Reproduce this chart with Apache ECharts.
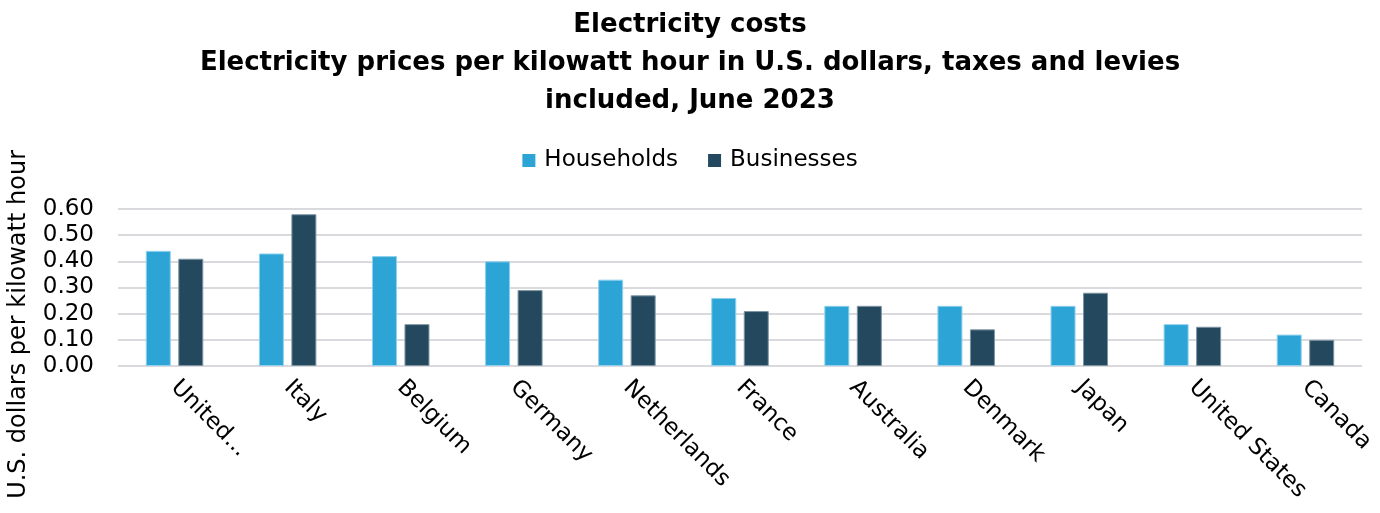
<!DOCTYPE html>
<html>
<head>
<meta charset="utf-8">
<script src="https://cdn.jsdelivr.net/npm/echarts@6/dist/echarts.min.js"></script>
<style>html,body{margin:0;padding:0;background:#fff}#c{width:1380px;height:513px}</style>
</head>
<body>
<div id="c"></div>
<script>
const categories = ['United Kingdom','Italy','Belgium','Germany','Netherlands','France','Australia','Denmark','Japan','United States','Canada'];
const households = [0.44,0.43,0.42,0.40,0.33,0.26,0.23,0.23,0.23,0.16,0.12];
const businesses = [0.41,0.58,0.16,0.29,0.27,0.21,0.23,0.14,0.28,0.15,0.10];
const seriesNames = ['Households','Businesses'];
const titleText = 'Electricity costs\nElectricity prices per kilowatt hour in U.S. dollars, taxes and levies\nincluded, June 2023';
const yAxisTitle = 'U.S. dollars per kilowatt hour';

const FONT = '"DejaVu Sans"';
const chart = echarts.init(document.getElementById('c'));
chart.setOption({
  animation:false,
  backgroundColor:'#fff',
  title:{
    text:titleText,
    left:'center', top:1,
    textStyle:{fontFamily:FONT,fontWeight:'bold',fontSize:26,lineHeight:38,color:'#000'}
  },
  legend:{
    data:seriesNames, top:144, left:'center',
    itemWidth:13,itemHeight:13,itemGap:30,
    icon:'rect',
    itemStyle:{borderWidth:0},
    textStyle:{fontFamily:FONT,fontSize:23,color:'#000',padding:[0,0,0,4]}
  },
  graphic:[{
    type:'text', left:7, top:150,
    rotation:Math.PI/2,
    style:{text:yAxisTitle,fontFamily:FONT,fontSize:24,fill:'#000'}
  }],
  grid:{left:118,right:18,top:209,bottom:147},
  xAxis:{
    type:'category', data:categories,
    axisLine:{show:false}, axisTick:{show:false},
    axisLabel:{
      interval:0, rotate:-45, margin:18,
      fontFamily:FONT,fontSize:23,color:'#000',
      formatter:v=> v==='United Kingdom' ? 'United...' : v
    }
  },
  yAxis:{
    type:'value', min:0, max:0.6, interval:0.1,
    axisLabel:{formatter:v=>v.toFixed(2),fontFamily:FONT,fontSize:23,color:'#000',margin:24},
    splitLine:{lineStyle:{color:'#D9D9DE',width:2}},
    axisLine:{show:false},axisTick:{show:false}
  },
  series:[
    {name:seriesNames[0],type:'bar',data:households,barWidth:25,barGap:'30%',
     itemStyle:{color:'#2CA5D6',borderColor:'#8FD0EC',borderWidth:1}},
    {name:seriesNames[1],type:'bar',data:businesses,barWidth:25,
     itemStyle:{color:'#24495E',borderColor:'#7D95A3',borderWidth:1}}
  ]
});
</script>
</body>
</html>
